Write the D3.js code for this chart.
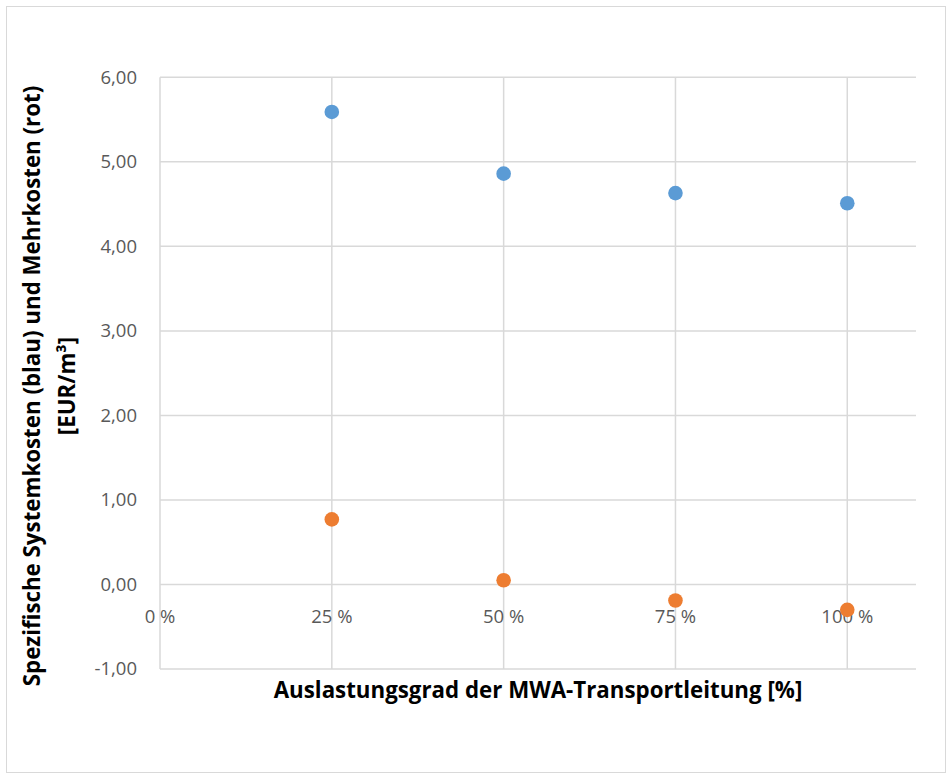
<!DOCTYPE html>
<html><head><meta charset="utf-8">
<script src="https://cdn.jsdelivr.net/npm/d3@7"></script>
<style>body{margin:0;background:#fff}svg{display:block}text{font-family:"Open Sans",sans-serif}</style>
</head><body><svg id="c" width="952" height="779"></svg>
<script>
const xValues = [0.25, 0.50, 0.75, 1.00];
const blueValues = [5.59, 4.86, 4.63, 4.51];
const orangeValues = [0.77, 0.05, -0.19, -0.30];
const xTicks = [0, 0.25, 0.5, 0.75, 1.0];
const yTicks = [-1, 0, 1, 2, 3, 4, 5, 6];
const xTitle = "Auslastungsgrad der MWA-Transportleitung [%]";
const yTitle1 = "Spezifische Systemkosten (blau) und Mehrkosten (rot)";
const yTitle2 = "[EUR/m³]";

const svg = d3.select("#c");
svg.append("rect").attr("x",6.5).attr("y",6.5).attr("width",939).attr("height",766)
  .attr("fill","#fff").attr("stroke","#d9d9d9").attr("stroke-width",1);

const x = d3.scaleLinear().domain([0,1.1]).range([160,916]);
const y = d3.scaleLinear().domain([-1,6]).range([669,77.3]);
const grid = "#d9d9d9";

const g = svg.append("g");
g.selectAll("line.h").data(yTicks).join("line")
  .attr("x1",x(0)).attr("x2",x(1.1)).attr("y1",d=>y(d)).attr("y2",d=>y(d))
  .attr("stroke",grid).attr("stroke-width",1.5);
g.selectAll("line.v").data(xTicks).join("line")
  .attr("x1",d=>x(d)).attr("x2",d=>x(d)).attr("y1",y(-1)).attr("y2",y(6))
  .attr("stroke",grid).attr("stroke-width",1.5);

g.selectAll("text.yt").data(yTicks).join("text")
  .attr("x",137).attr("y",d=>y(d)).attr("dy","0.35em").attr("text-anchor","end")
  .attr("fill","#595959").style("font-size","18.5px")
  .text(d=>d3.format(".2f")(d).replace(".",",").replace("\u2212","-"));
g.selectAll("text.xt").data(xTicks).join("text")
  .attr("x",d=>x(d)).attr("y",y(0)+39).attr("text-anchor","middle")
  .attr("fill","#595959").style("font-size","18.5px")
  .text(d=>Math.round(d*100)+" %");

g.selectAll("circle.b").data(xValues).join("circle")
  .attr("cx",d=>x(d)).attr("cy",(d,i)=>y(blueValues[i])).attr("r",7.3).attr("fill","#5b9bd5");
g.selectAll("circle.o").data(xValues).join("circle")
  .attr("cx",d=>x(d)).attr("cy",(d,i)=>y(orangeValues[i])).attr("r",7.3).attr("fill","#ed7d31");

svg.append("text").attr("x",538).attr("y",698).attr("text-anchor","middle")
  .style("font-size","22.3px").style("font-weight","bold").attr("fill","#000").text(xTitle);
const yt = svg.append("text").attr("transform","translate(0,386) rotate(-90)")
  .attr("text-anchor","middle").style("font-size","22.3px").style("font-weight","bold").attr("fill","#000");
yt.append("tspan").attr("x",0).attr("y",40).text(yTitle1);
yt.append("tspan").attr("x",0).attr("y",75).text(yTitle2);
</script></body></html>
